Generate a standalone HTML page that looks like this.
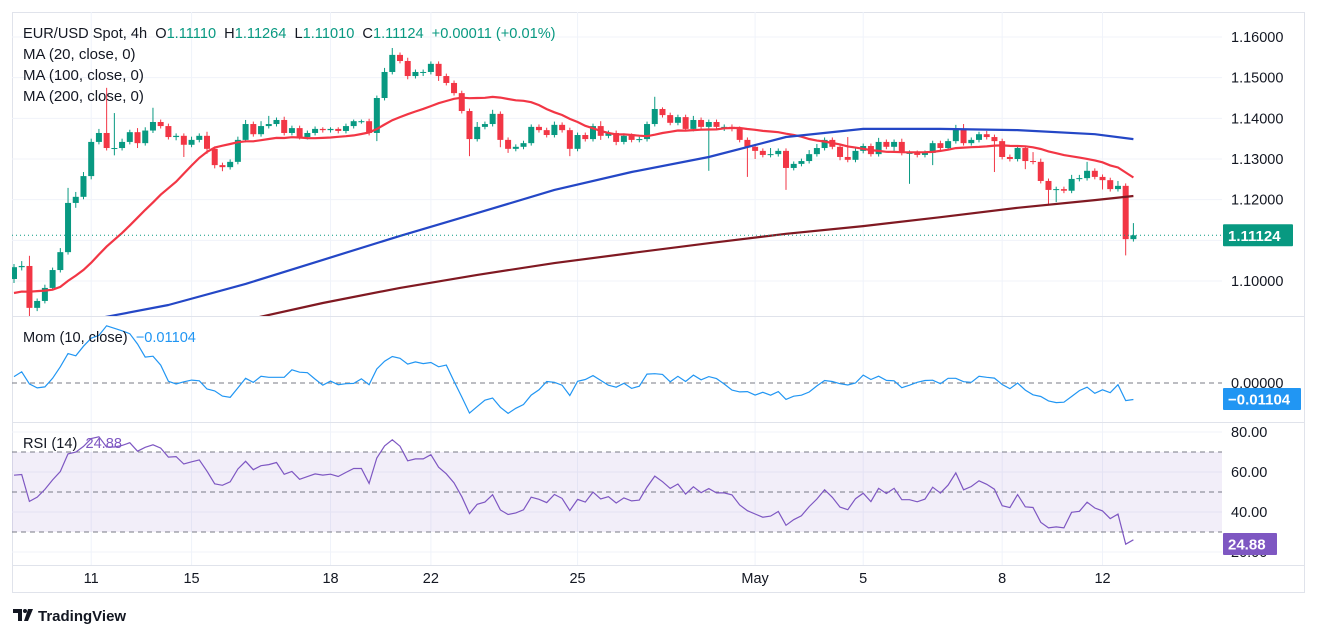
<!DOCTYPE html>
<html><head><meta charset="utf-8">
<style>
body{margin:0;background:#fff;font-family:"Liberation Sans",sans-serif;}
#wrap{position:relative;width:1318px;height:638px;overflow:hidden;background:#fff;}
svg text{font-family:"Liberation Sans",sans-serif;}
</style></head>
<body>
<div id="wrap">
<svg id="chart" width="1318" height="638" xmlns="http://www.w3.org/2000/svg"></svg>
</div>
<script>
// ---- data ----
const preCloses=[1.0950,1.0965,1.0940,1.0920,1.0960,1.0985,1.0930,1.0900,1.0945,1.0975,1.0990,1.0960,1.0940,1.0985,1.1010,1.0995,1.0960,1.0990,1.1020,1.1005];
const closes=[1.1034,1.1037,1.0934,1.0951,1.0983,1.1027,1.1071,1.1192,1.1207,1.1258,
1.1342,1.1364,1.1327,1.1327,1.1342,1.1366,1.1339,1.1370,1.1391,1.1381,
1.1354,1.1357,1.1335,1.1347,1.1357,1.1325,1.1285,1.1280,1.1293,1.1347,
1.1386,1.1361,1.1381,1.1386,1.1396,1.1364,1.1376,1.1354,1.1364,1.1374,
1.1371,1.1374,1.1369,1.1381,1.1393,1.1393,1.1364,1.1450,1.1514,1.1556,
1.1541,1.1504,1.1514,1.1514,1.1534,1.1504,1.1487,1.1462,1.1418,1.1349,
1.1379,1.1386,1.1411,1.1347,1.1325,1.1330,1.1339,1.1379,1.1371,1.1359,
1.1384,1.1371,1.1325,1.1359,1.1349,1.1381,1.1357,1.1364,1.1342,1.1357,
1.1347,1.1349,1.1386,1.1423,1.1408,1.1389,1.1403,1.1374,1.1396,1.1379,
1.1391,1.1379,1.1379,1.1374,1.1347,1.1330,1.1320,1.1310,1.1312,1.1320,
1.1278,1.1288,1.1295,1.1312,1.1327,1.1347,1.1330,1.1305,1.1298,1.1320,
1.1332,1.1312,1.1342,1.1330,1.1342,1.1315,1.1315,1.1310,1.1315,1.1339,
1.1327,1.1344,1.1374,1.1339,1.1347,1.1361,1.1354,1.1344,1.1305,1.1300,
1.1327,1.1295,1.1293,1.1246,1.1224,1.1226,1.1222,1.1251,1.1253,1.1271,
1.1256,1.1248,1.1226,1.1234,1.1103,1.11124];
const upWicks=[8,12,25,6,8,6,10,37,12,10, 8,10,111,86,8,6,10,8,35,6, 6,6,6,8,6,10,6,6,6,8,
10,6,12,20,6,8,6,6,6,6, 4,4,4,6,4,4,6,6,10,17, 6,8,6,6,6,6,6,6,6,6, 12,6,10,6,6,6,6,6,6,6,
8,6,6,6,6,6,12,6,6,6, 6,6,6,30,4,6,6,6,10,6, 6,6,6,6,6,6,6,6,15,6, 6,6,6,10,10,6,6,6,49,8,
6,6,10,6,6,8,6,6,6,6, 6,6,10,12,6,6,8,6,6,6, 7,6,22,8,6,6,6,10,8,22, 6,6,6,12,6,30];
const downWicks=[10,8,20,8,6,6,6,6,12,6, 8,6,6,18,6,6,12,6,6,6, 6,8,30,6,6,12,8,10,6,6,
6,6,6,6,6,6,6,6,6,6, 6,6,6,6,6,6,6,20,6,6, 6,8,6,10,6,12,6,6,6,42, 6,6,6,18,10,6,6,6,6,6,
6,6,18,6,6,6,10,6,8,6, 6,6,6,6,6,6,6,6,6,6, 108,6,10,6,6,74,20,6,6,6, 54,6,6,6,6,6,6,8,6,6,
6,6,6,6,10,6,76,6,6,30, 6,6,6,6,6,6,6,76,6,6, 6,20,6,6,35,30,6,6,6,6, 6,23,6,6,40,6];
const ma100Idx=[10,20,30,40,50,60,70,80,90,100,110,120,130,140,145];
const ma100Vals=[1.0905,1.0941,1.0993,1.1052,1.1111,1.1167,1.1224,1.1268,1.1305,1.1354,1.1374,1.1374,1.1371,1.1361,1.1349];
const ma200Idx=[30,40,50,60,70,80,90,100,110,120,130,140,145];
const ma200Vals=[1.0904,1.0946,1.0983,1.1015,1.1044,1.1069,1.1093,1.1116,1.1135,1.1157,1.1180,1.1199,1.1209];
const priceTicks=[1.16,1.15,1.14,1.13,1.12,1.10];
const rsiTicks=[80,60,40,20];
const dateLabels=["11","15","18","22","25","May","5","8","12"];
const dateIdx=[10,23,41,54,73,96,110,128,141];
const lastLabel="1.11124";
const momLast=-0.01104;
const rsiLast="24.88";

// ---- scales ----
const X0=14, DX=7.72;
const xOf=i=>X0+i*DX;
const yP=p=>37+(1.16-p)*4067;
const yM=m=>383-m*1455;
const yR=r=>592-2*r;
const PL=12, PR=1222, FR=1304;

const svg=document.getElementById('chart');
const NS='http://www.w3.org/2000/svg';
function el(tag,attrs,parent){const e=document.createElementNS(NS,tag);for(const k in attrs)e.setAttribute(k,attrs[k]);(parent||svg).appendChild(e);return e;}

const defs=el('defs',{});
const c1=el('clipPath',{id:'cMain'},defs);el('rect',{x:PL,y:12,width:PR-PL,height:304},c1);
const c2=el('clipPath',{id:'cMom'},defs);el('rect',{x:PL,y:317,width:PR-PL,height:105},c2);
const c3=el('clipPath',{id:'cRsi'},defs);el('rect',{x:PL,y:423,width:PR-PL,height:142},c3);

let fr=el('rect',{x:12.5,y:12.5,width:FR-12,height:580,fill:'#fff',stroke:'#e0e3eb'});


const grid=el('g',{stroke:'#f0f3fa','stroke-width':1});

dateIdx.forEach(i=>el('line',{x1:xOf(i),x2:xOf(i),y1:12,y2:565},grid));
[1.16,1.15,1.14,1.13,1.12,1.11,1.10].forEach(p=>el('line',{x1:PL,x2:PR,y1:yP(p),y2:yP(p)},grid));
rsiTicks.forEach(r=>el('line',{x1:PL,x2:PR,y1:yR(r),y2:yR(r)},grid));
[316.5,422.5,565.5].forEach(y=>{const l=el('line',{x1:12,x2:FR,y1:y,y2:y,stroke:'#e0e3eb'});});

// ---- candles ----
const cg=el('g',{'clip-path':'url(#cMain)'});

closes.forEach((c,i)=>{
  const o=i===0?preCloses[preCloses.length-1]:closes[i-1];
  const up=c>=o;const col=up?'#089981':'#f23645';
  const hi=Math.max(o,c)+upWicks[i]/10000, lo=Math.min(o,c)-downWicks[i]/10000;
  const x=xOf(i);
  const g=el('g',{},cg);
  
  
  el('line',{x1:x,x2:x,y1:yP(hi),y2:yP(lo),stroke:col,'stroke-width':1},g);
  const yt=yP(Math.max(o,c)),yb=yP(Math.min(o,c));
  el('rect',{x:x-3,y:yt,width:6,height:Math.max(1,yb-yt),fill:col},g);
});

const all=preCloses.concat(closes);const NP=preCloses.length;
function pathFrom(pts){return pts.map((p,k)=>(k?'L':'M')+p[0].toFixed(1)+' '+p[1].toFixed(1)).join(' ');}
const ma20=[];
closes.forEach((c,i)=>{const j=i+NP;let s=0,n=0;for(let k=Math.max(0,j-19);k<=j;k++){s+=all[k];n++;}ma20.push([xOf(i),yP(s/n)]);});
let l20=el('path',{d:pathFrom(ma20),fill:'none',stroke:'#f23645','stroke-width':2.2,'clip-path':'url(#cMain)'});

let l100=el('path',{d:pathFrom(ma100Idx.map((i,k)=>[xOf(i),yP(ma100Vals[k])])),fill:'none',stroke:'#2447c6','stroke-width':2.2,'clip-path':'url(#cMain)','stroke-linejoin':'round'});

let l200=el('path',{d:pathFrom(ma200Idx.map((i,k)=>[xOf(i),yP(ma200Vals[k])])),fill:'none',stroke:'#801922','stroke-width':2.2,'clip-path':'url(#cMain)'});


const last=closes[closes.length-1];
let lp=el('line',{x1:PL,x2:PR,y1:yP(last),y2:yP(last),stroke:'#089981','stroke-dasharray':'1 3'});


// ---- momentum ----
const mom=closes.map((c,i)=>c-all[i+NP-10]);
let z=el('line',{x1:PL,x2:PR,y1:383,y2:383,stroke:'#787b86','stroke-dasharray':'5 4'});

let ml=el('path',{d:pathFrom(mom.map((m,i)=>[xOf(i),yM(m)])),fill:'none',stroke:'#2196f3','stroke-width':1.2,'clip-path':'url(#cMom)'});


// ---- RSI ----
let fill=el('rect',{x:PL,y:yR(70),width:PR-PL,height:yR(30)-yR(70),fill:'rgba(126,87,194,0.1)'});

[70,50,30].forEach(r=>{const l=el('line',{x1:PL,x2:PR,y1:yR(r),y2:yR(r),stroke:'#787b86','stroke-dasharray':'5 4'});});
let ag=0,al=0;const rsi=[];
for(let j=1;j<all.length;j++){const d=all[j]-all[j-1];const g=Math.max(d,0),lo=Math.max(-d,0);
 if(j<=14){ag+=g/14;al+=lo/14;}else{ag=(ag*13+g)/14;al=(al*13+lo)/14;}
 if(j>=NP) rsi.push(100-100/(1+ag/(al||1e-9)));}
let rl=el('path',{d:pathFrom(rsi.map((r,i)=>[xOf(i),yR(r)])),fill:'none',stroke:'#7e57c2','stroke-width':1.2,'clip-path':'url(#cRsi)'});


// ---- axes text ----
function txt(x,y,s,attrs,name,inter){const t=el('text',Object.assign({x:x,y:y,'font-size':14.5,fill:'#131722'},attrs||{}));t.textContent=s;return t;}
priceTicks.forEach(p=>txt(1231,yP(p)+5,p.toFixed(5),{},'price-tick'));
txt(1231,388,'0.00000',{},'mom-tick');
rsiTicks.forEach(r=>txt(1231,yR(r)+5,r.toFixed(2),{},'rsi-tick'));
dateLabels.forEach((s,k)=>txt(xOf(dateIdx[k]),583,s,{'text-anchor':'middle'},'x-axis-label'));

function badge(y,bg,s,name,w){const g=el('g',{});
 el('rect',{x:1223,y:y-11,width:w,height:22,fill:bg,rx:1},g);
 const t=el('text',{x:1228,y:y+5.5,'font-size':15,fill:'#fff','font-weight':'bold'},g);t.textContent=s;}
badge(yP(last),'#089981',lastLabel,'last-price-badge',70);
badge(399,'#2196f3',momLast.toFixed(5).replace('-','\u2212'),'mom-value-badge',78);
badge(544,'#7e57c2',rsiLast,'rsi-value-badge',54);

const lg=el('text',{x:23,y:38,'font-size':14.6,fill:'#131722'});

lg.innerHTML='EUR/USD Spot, 4h&#160;&#160;O<tspan fill="#089981">1.11110</tspan>&#160;&#160;H<tspan fill="#089981">1.11264</tspan>&#160;&#160;L<tspan fill="#089981">1.11010</tspan>&#160;&#160;C<tspan fill="#089981">1.11124</tspan>&#160;&#160;<tspan fill="#089981">+0.00011 (+0.01%)</tspan>';
txt(23,59,'MA (20, close, 0)',{'font-size':15},'ma20-legend',true);
txt(23,80,'MA (100, close, 0)',{'font-size':15},'ma100-legend',true);
txt(23,101,'MA (200, close, 0)',{'font-size':15},'ma200-legend',true);
const mlg=el('text',{x:23,y:342,'font-size':14.6,fill:'#131722'});

mlg.innerHTML='Mom (10, close)&#160;&#160;<tspan fill="#2196f3">\u22120.01104</tspan>';
const rlg=el('text',{x:23,y:448,'font-size':14.6,fill:'#131722'});

rlg.innerHTML='RSI (14)&#160;&#160;<tspan fill="#7e57c2">24.88</tspan>';

const lgG=el('g',{});
el('path',{d:'M13 609 h9 v12 h-4 v-8 h-5z',fill:'#131722'},lgG);
el('circle',{cx:25,cy:611,r:2,fill:'#131722'},lgG);
el('path',{d:'M28 609 h5 l-5 12 h-4z',fill:'#131722'},lgG);
const tv=el('text',{x:38,y:621,'font-size':15,fill:'#131722','font-weight':'bold'},lgG);tv.textContent='TradingView';
</script>
</body></html>
